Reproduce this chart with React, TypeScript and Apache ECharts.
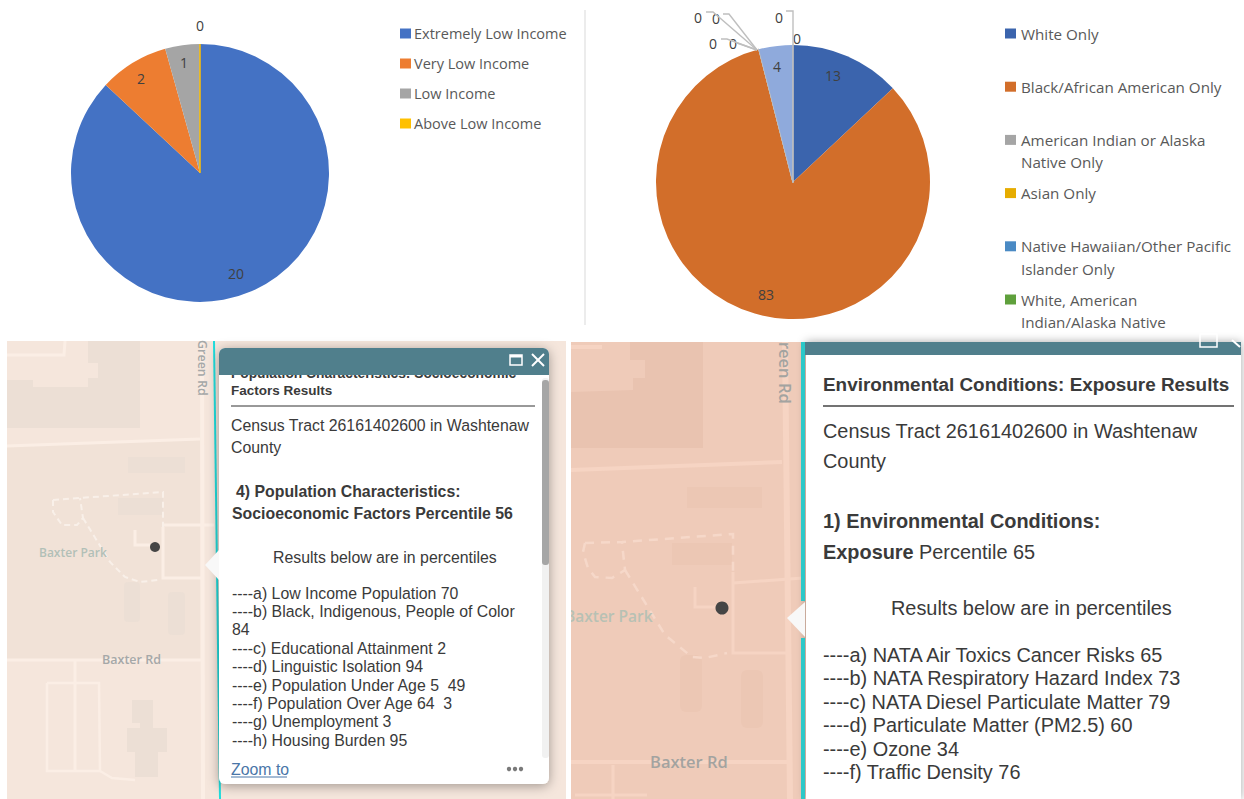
import React, { useEffect, useRef } from "react";
import * as echarts from "echarts";

// ---- data ----
const incomeNames = ["Extremely Low Income", "Very Low Income", "Low Income", "Above Low Income"];
const incomeValues = [20, 2, 1, 0];
const incomeColors = ["#4472c4", "#ed7d31", "#a5a5a5", "#ffc000"];

const raceNames = [
  "White Only",
  "Black/African American Only",
  "American Indian or Alaska\nNative Only",
  "Asian Only",
  "Native Hawaiian/Other Pacific\nIslander Only",
  "White, American\nIndian/Alaska Native",
  "Further category A",
  "Further category B",
  "Further category C",
];
const raceValues = [13, 83, 0, 0, 0, 0, 4, 0, 0];
const raceColors = ["#3b64ad", "#d26e2a", "#a5a5a5", "#e6ac00", "#4a8ac4", "#5fa03c", "#8faadc", "#c0c0c0", "#b0b0b0"];
const raceLegendCount = 6;

const leftHead = [
  "Population Characteristics: Socioeconomic",
  "Factors Results",
];
const censusLines = ["Census Tract 26161402600 in Washtenaw", "County"];
const leftBold = ["4) Population Characteristics:", "Socioeconomic Factors Percentile 56"];
const resultsNote = "Results below are in percentiles";
const leftList = [
  "----a) Low Income Population 70",
  "----b) Black, Indigenous, People of Color",
  "84",
  "----c) Educational Attainment 2",
  "----d) Linguistic Isolation 94",
  "----e) Population Under Age 5  49",
  "----f) Population Over Age 64  3",
  "----g) Unemployment 3",
  "----h) Housing Burden 95",
];
const rightHead = "Environmental Conditions: Exposure Results";
const rightList = [
  "----a) NATA Air Toxics Cancer Risks 65",
  "----b) NATA Respiratory Hazard Index 73",
  "----c) NATA Diesel Particulate Matter 79",
  "----d) Particulate Matter (PM2.5) 60",
  "----e) Ozone 34",
  "----f) Traffic Density 76",
];

// ---- label placement (layout, not data) ----
const incomeLabelPos = [[236, 273], [141, 78], [184, 62], [200, 25]];
const raceLabelPos = [[833, 75], [766, 294], [698, 17], [716, 18], [713, 43], [733, 43], [777, 66], [779, 17], [797, 38]];

const FONT = "'Liberation Sans', Arial, sans-serif";
const CHART_FONT = "'Open Sans', sans-serif";
const INK = "#3a3a3a";

type Pt = number[];
const poly = (points: Pt[], stroke: string, lineWidth: number, lineDash?: number[], z = 1) => ({
  type: "polyline", z, shape: { points }, style: { stroke, lineWidth, fill: "none", lineDash },
});
const rect = (x: number, y: number, w: number, h: number, fill: string, r = 0, z = 1, extra: any = {}) => ({
  type: "rect", z, shape: { x, y, width: w, height: h, r }, style: { fill, ...extra },
});
const shape = (points: Pt[], fill: string, z = 1) => ({ type: "polygon", z, shape: { points }, style: { fill } });
const txt = (x: number, y: number, text: string, fontSize: number, fill = INK, fontWeight: any = "normal", family = FONT, z = 3) => ({
  type: "text", z, x, y, style: { text, fontSize, fill, fontWeight, fontFamily: family, verticalAlign: "middle", align: "left" },
});
const MAPF = "'Open Sans', sans-serif";

function leftPanel(): any[] {
  const bg = "#f5e6dc", park = "#f1e2d7", dark = "#ecdfd5", road = "#fbeee5", dash = "#f9f0e9";
  const T = 15.85;
  return [
    rect(7, 341, 559, 458, bg),
    shape([[7, 446], [200, 439], [200, 660], [7, 660]], park),
    shape([[88, 341], [140, 341], [140, 428], [7, 428], [7, 380], [33, 380], [33, 387], [88, 387], [88, 378], [98, 378], [98, 363], [88, 363]], dark),
    rect(128, 457, 57, 16, dark), rect(118, 498, 45, 17, dark),
    rect(124, 582, 16, 40, dark, 4), rect(168, 592, 17, 43, dark, 4),
    rect(132, 700, 21, 23, dark), rect(140, 723, 13, 5, dark), rect(127, 728, 40, 24, dark), rect(135, 752, 23, 25, dark),
    poly([[7, 355], [64, 355], [65, 341]], road, 3),
    poly([[7, 446], [200, 439]], road, 3),
    poly([[202, 341], [203, 799]], road, 4),
    poly([[7, 660], [203, 660]], road, 3),
    poly([[75, 660], [75, 770]], road, 3),
    poly([[47, 683], [99, 683], [100, 771], [47, 771], [47, 683]], road, 2.5),
    poly([[100, 771], [112, 778], [135, 780]], road, 2.5),
    poly([[163, 527], [163, 578], [203, 578]], road, 3),
    poly([[163, 525], [214, 525]], road, 3),
    poly([[135, 530], [135, 545], [150, 545]], road, 3),
    poly([[53, 500], [80, 498], [163, 492], [163, 527]], dash, 2, [6, 4]),
    poly([[53, 500], [53, 512], [62, 525], [77, 525], [83, 518], [80, 498]], dash, 2, [6, 4]),
    poly([[83, 518], [110, 562], [125, 577], [140, 582], [158, 580]], dash, 2, [6, 4]),
    { type: "circle", z: 2, shape: { cx: 155, cy: 547, r: 5 }, style: { fill: "#454545" } },
    txt(39, 552, "Baxter Park", 12, "#b2c0b7", 600, MAPF, 2),
    txt(102, 659, "Baxter Rd", 12.5, "#a5a8a8", 600, MAPF, 2),
    { ...txt(0, 0, "Green Rd", 12.5, "#a5a8a8", 600, MAPF, 2), x: 202, y: 340, rotation: -Math.PI / 2 },
    poly([[214, 341], [220, 799]], "#1fdcdc", 2, undefined, 2),
    rect(219, 348, 330, 436, "#ffffff", 6, 3, { shadowBlur: 12, shadowColor: "rgba(0,0,0,0.35)", shadowOffsetX: 0, shadowOffsetY: 2 }),
    { type: "polygon", z: 3, shape: { points: [[219, 550], [205, 565], [219, 580]] }, style: { fill: "#f8f8f8" } },
    txt(231, 373, leftHead[0], 13.8, INK, "bold", FONT, 3),
    rect(219, 348, 330, 27, "#507f8c", 6, 4),
    rect(219, 366, 330, 9, "#507f8c", 0, 4),
    { type: "rect", z: 5, shape: { x: 510, y: 355, width: 12, height: 10 }, style: { fill: "none", stroke: "#fff", lineWidth: 1.5 } },
    rect(510, 355, 12, 2.5, "#ffffff", 0, 5),
    poly([[532, 354], [544, 366]], "#ffffff", 2, undefined, 5),
    poly([[544, 354], [532, 366]], "#ffffff", 2, undefined, 5),
    rect(542, 378, 7, 380, "#f1f1f1", 3, 5),
    rect(542, 380, 7, 185, "#a6a6a6", 3, 6),
    txt(231, 390, leftHead[1], 13.5, INK, "bold"),
    poly([[231, 406], [535, 406]], "#333333", 1, undefined, 4),
    txt(231, 425, censusLines[0], T),
    txt(231, 447, censusLines[1], T),
    txt(236, 491, leftBold[0], T, INK, "bold"),
    txt(232, 513, leftBold[1], T, INK, "bold"),
    txt(273, 557, resultsNote, T),
    ...leftList.map((s, i) => txt(232, [593, 611, 629, 648, 666, 685, 703, 721, 740][i], s, T)),
    txt(231, 769, "Zoom to", T, "#4a76a8"),
    poly([[231, 777], [287, 777]], "#4a76a8", 1, undefined, 4),
    ...[509, 515, 521].map((cx) => ({ type: "circle", z: 4, shape: { cx, cy: 769, r: 2.2 }, style: { fill: "#7a7a7a" } })),
  ];
}

function rightPanel(): any[] {
  const bg = "#efcbb9", dark = "#e9c3b0", oval = "#ecc7b4", road = "#f6d4c3", dash = "#f6d8c9";
  const T = 19.9;
  return [
    rect(571, 342, 235, 457, bg),
    shape([[630, 342], [703, 342], [703, 448], [571, 448], [571, 392], [633, 390], [633, 378], [645, 378], [645, 360], [630, 360]], dark),
    rect(687, 487, 75, 21, oval), rect(672, 543, 60, 22, oval),
    rect(680, 655, 22, 57, oval, 6), rect(741, 670, 22, 58, oval, 6),
    poly([[571, 347], [602, 347]], road, 4),
    poly([[571, 470], [782, 462]], road, 4),
    poly([[785, 342], [790, 799]], road, 6),
    poly([[571, 762], [790, 762]], road, 4),
    poly([[613, 765], [613, 799]], road, 3),
    poly([[575, 795], [647, 795]], road, 3),
    poly([[733, 572], [733, 653], [787, 653]], road, 3),
    poly([[733, 583], [803, 578]], road, 3),
    poly([[695, 587], [695, 607], [715, 607]], road, 3),
    poly([[585, 543], [622, 542], [733, 534], [733, 575]], dash, 2.5, [9, 7]),
    poly([[585, 543], [583, 552], [588, 568], [595, 577], [612, 578], [625, 570], [622, 543]], dash, 2.5, [9, 7]),
    poly([[625, 570], [665, 635], [692, 657], [705, 658], [727, 653]], dash, 2.5, [9, 7]),
    { type: "circle", z: 2, shape: { cx: 722, cy: 608, r: 6.5 }, style: { fill: "#454545" } },
    txt(565, 616, "Baxter Park", 15.5, "#b7c1b4", 600, MAPF, 2),
    txt(650, 761, "Baxter Rd", 16.5, "#a3a3a0", 600, MAPF, 2),
    { ...txt(0, 0, "Green Rd", 16.5, "#a3a3a0", 600, MAPF, 2), x: 785, y: 330, rotation: -Math.PI / 2 },
    rect(566, 325, 5, 474, "#ffffff", 0, 2.5),
    rect(571, 325, 670, 17, "#ffffff", 0, 2.5),
    rect(806, 342, 435, 457, "#ffffff", 0, 3, { shadowBlur: 10, shadowColor: "rgba(0,0,0,0.35)" }),
    { type: "polygon", z: 4, shape: { points: [[805, 602], [787, 618], [805, 637]] }, style: { fill: "#f8f8f8" } },
    poly([[803, 342], [803, 601]], "#2cc8c8", 4, undefined, 4),
    poly([[803, 638], [803, 799]], "#2cc8c8", 4, undefined, 4),
    rect(805, 342, 436, 13, "#507f8c", 0, 4),
    { type: "rect", z: 5, shape: { x: 1200, y: 334, width: 17, height: 13 }, style: { fill: "none", stroke: "#fff", lineWidth: 1.5 } },
    poly([[1232, 340], [1240, 347]], "#ffffff", 2, undefined, 5),
    txt(823, 384, rightHead, 18.9, INK, "bold"),
    poly([[823, 406], [1234, 406]], "#444444", 1.5, undefined, 4),
    txt(823, 431, censusLines[0], T),
    txt(823, 461, censusLines[1], T),
    txt(823, 521, "1) Environmental Conditions:", T, INK, "bold"),
    txt(823, 552, "Exposure", T, INK, "bold"),
    txt(919, 552, "Percentile 65", T),
    txt(891, 608, resultsNote, T),
    ...rightList.map((s, i) => txt(823, [655, 678, 702, 725, 749, 772][i], s, T)),
  ];
}

function pieLines(): any[] {
  const c = "#bfbfbf";
  return [
    poly([[706, 12], [713, 12], [757, 50]], c, 1.4, undefined, 10),
    poly([[723, 14], [729, 14], [757, 50]], c, 1.4, undefined, 10),
    poly([[721, 39], [727, 39], [757, 50]], c, 1.4, undefined, 10),
    poly([[737, 43], [757, 50]], c, 1.4, undefined, 10),
    poly([[786, 11], [793, 11], [793, 45]], c, 1.4, undefined, 10),
  ];
}

function buildOption(): any {
  const pieCommon = {
    type: "pie",
    startAngle: 90,
    clockwise: true,
    silent: true,
    avoidLabelOverlap: false,
    minShowLabelAngle: 0,
    labelLine: { show: false },
    label: {
      show: true, position: "inside", formatter: "{c}",
      fontFamily: CHART_FONT, fontSize: 14, color: "#404040",
    },
    emphasis: { disabled: true },
  };
  const legendCommon = {
    orient: "vertical", selectedMode: false, icon: "rect", padding: 0,
    itemWidth: 11, itemHeight: 10,
    itemStyle: { borderWidth: 0 },
    formatter: (name: string) => name.split("\n")[0],
  };
  const secondLines = raceNames.slice(0, raceLegendCount)
    .map((n, i) => ({ n, i }))
    .filter((o) => o.n.includes("\n"))
    .map((o) => txt(1021, 35 + 53.2 * o.i + 21, o.n.split("\n")[1], 15.2, "#595959", "normal", CHART_FONT));

  return {
    animation: false,
    backgroundColor: "#ffffff",
    legend: [
      {
        ...legendCommon, left: 400, top: 26, itemGap: 15, data: incomeNames,
        textStyle: { fontFamily: CHART_FONT, fontSize: 14.5, color: "#595959", lineHeight: 14, padding: [0, 0, 0, -2] },
      },
      {
        ...legendCommon, left: 1005, top: 26, itemGap: 38.2, data: raceNames.slice(0, raceLegendCount),
        textStyle: { fontFamily: CHART_FONT, fontSize: 15.2, color: "#595959", lineHeight: 14 },
      },
    ],
    series: [
      {
        ...pieCommon,
        center: [200, 173], radius: 129,
        labelLayout: (p: any) => ({ x: incomeLabelPos[p.dataIndex][0], y: incomeLabelPos[p.dataIndex][1], align: "center", verticalAlign: "middle" }),
        data: incomeNames.map((name, i) => ({
          name, value: incomeValues[i],
          itemStyle: { color: incomeColors[i], ...(incomeValues[i] === 0 ? { borderColor: incomeColors[i], borderWidth: 1 } : {}) },
        })),
      },
      {
        ...pieCommon,
        center: [793, 182], radius: 137,
        labelLayout: (p: any) => ({ x: raceLabelPos[p.dataIndex][0], y: raceLabelPos[p.dataIndex][1], align: "center", verticalAlign: "middle" }),
        data: raceNames.map((name, i) => ({
          name, value: raceValues[i],
          itemStyle: { color: raceColors[i], ...(raceValues[i] === 0 ? { borderColor: "#bfbfbf", borderWidth: 1.2 } : {}) },
        })),
      },
    ],
    graphic: {
      elements: [
        poly([[585, 10], [585, 340]], "#d9d9d9", 1),
        ...secondLines,
        ...leftPanel(),
        ...rightPanel(),
        ...pieLines(),
      ],
    },
  };
}

export default function App() {
  const ref = useRef<HTMLDivElement>(null);
  useEffect(() => {
    const chart = echarts.init(ref.current!, undefined, { renderer: "svg" });
    chart.setOption(buildOption());
    return () => chart.dispose();
  }, []);
  return <div ref={ref} style={{ position: "fixed", left: 0, top: 0, width: 1244, height: 799 }} />;
}
